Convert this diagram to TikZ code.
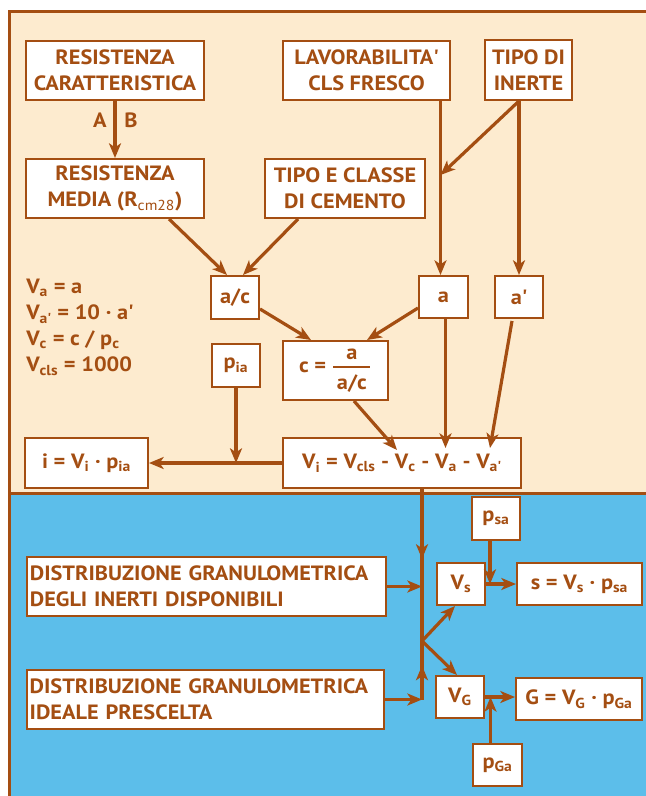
\documentclass[tikz,border=0pt]{standalone}
\usepackage{amsmath}
\usepackage{fontspec}
\setmainfont{PT Sans}[FakeStretch=1.08]
\usetikzlibrary{arrows.meta,calc,decorations.markings}
\definecolor{brn}{RGB}{164,78,18}
\definecolor{cream}{RGB}{253,235,207}
\definecolor{sky}{RGB}{92,190,234}

\begin{document}
\begin{tikzpicture}[x=0.75pt,y=0.75pt,yscale=-1,xscale=1,
  font=\bfseries\fontsize{15.5}{19.5}\selectfont, text=brn,
  box/.style={draw=brn,fill=white,line width=1.5pt,inner sep=0pt,align=center},
  wh/.style 2 args={minimum width=#1*0.75pt,minimum height=#2*0.75pt},
  conn/.style={draw=brn,line width=2.4pt},
  arr/.style={conn,-{Stealth[length=11pt,width=9pt,inset=3pt]}},
  midarr/.style={conn,postaction={decorate},decoration={markings,mark=at position #1 with {\arrow{Stealth[length=11pt,width=9pt,inset=3pt,color=brn]}}}},
  frame/.style={draw=brn,line width=2.4pt}]

\useasboundingbox (0,0) rectangle (646,796);

\fill [cream] (9.5,11.5) rectangle (646,493.5);

\fill [sky] (9.5,493.5) rectangle (646,796);

\draw [frame] (646,11.5) -- (9.5,11.5) -- (9.5,796);

\draw [frame] (9.5,493.5) -- (646,493.5);


\node (rc) [box,wh={178}{59}] at (115,70.5) {RESISTENZA\\CARATTERISTICA};

\node (rm) [box,wh={178}{59}] at (115,188.5) {RESISTENZA\\MEDIA (R\textsubscript{\mdseries cm28})};

\node (lav) [box,wh={167}{59}] at (366.5,70.5) {LAVORABILITA\textquotesingle\\CLS FRESCO};

\node (tin) [box,wh={87}{60}] at (528.5,70) {TIPO DI\\INERTE};

\node (tcc) [box,wh={160}{59}] at (345,188.5) {TIPO E CLASSE\\DI CEMENTO};

\node (ac) [box,wh={48}{43}] at (235,297.5) {a/c};

\node (a) [box,wh={49}{42}] at (443.5,297) {a};

\node (ap) [box,wh={48}{42}] at (519,297) {a\textquotesingle};

\node (c) [box,wh={105}{59}] at (335.5,370.5) {c = $\genfrac{}{}{1.6pt}{0}{\mbox{a}}{\mbox{\,a/c\,}}$};

\node (pia) [box,wh={48}{43}] at (236,365.5) {p\textsubscript{ia}};

\node (vi) [box,wh={238}{50}] at (402,463) {V\textsubscript{i} = V\textsubscript{cls} - V\textsubscript{c} - V\textsubscript{a} - V\textsubscript{a\textquotesingle}};

\node (i) [box,wh={123}{50}] at (86.5,463) {i = V\textsubscript{i} · p\textsubscript{ia}};

\node (eqs) [anchor=north west,align=left,inner sep=0pt] at (26,279) {V\textsubscript{a} = a\\V\textsubscript{a\textquotesingle} = 10 · a\textquotesingle\\V\textsubscript{c} = c / p\textsubscript{c}\\V\textsubscript{cls} = 1000};

\node (lbA) at (100,120) {A};

\node (lbB) at (131,120) {B};


\node (d1) [box,align=left,text width=265pt,inner xsep=2pt,minimum height=44.25pt] at (206.5,586.5) {DISTRIBUZIONE GRANULOMETRICA\\DEGLI INERTI DISPONIBILI};

\node (d2) [box,align=left,text width=263.75pt,inner xsep=2pt,minimum height=44.25pt] at (205.5,699.5) {DISTRIBUZIONE GRANULOMETRICA\\IDEALE PRESCELTA};

\node (psa) [box,wh={48}{43}] at (496,518.5) {p\textsubscript{sa}};

\node (vs) [box,wh={48}{42}] at (461,584) {V\textsubscript{s}};

\node (s) [box,wh={125}{42}] at (579.5,584) {s = V\textsubscript{s} · p\textsubscript{sa}};

\node (vg) [box,wh={48}{42}] at (460,697) {V\textsubscript{G}};

\node (g) [box,wh={126}{42}] at (579,699) {G = V\textsubscript{G} · p\textsubscript{Ga}};

\node (pga) [box,wh={49}{42}] at (497.5,765) {p\textsubscript{Ga}};


\coordinate (an) at ($(a.north)+(-3,0)$);

\coordinate (mid) at ($(an |- lav.south)+(0,74)$);

\coordinate (jn) at (pia.south |- vi.west);

\coordinate (vt) at ($(vi.south west)+(140,0)$);

\coordinate (fork) at ($(vt)+(0,152)$);

\coordinate (in1) at (vt |- d1.east);

\coordinate (in2) at (vt |- d2.east);

\coordinate (ps) at ($(psa.south)+(-6,0)$);

\coordinate (pg) at ($(pga.north)+(-7,0)$);


\draw [arr] (rc.south) -- (rm.north);

\draw [arr] ($(rm.south east)+(-36,0)$) -- ($(ac.north)+(-8,0)$);

\draw [arr] ($(tcc.south west)+(34,0)$) -- ($(ac.north)+(8,0)$);

\draw [arr] (an |- lav.south) -- (an);

\draw [arr] (ap.north |- tin.south) -- (ap.north);

\draw [arr] (ap.north |- tin.south) -- (mid);

\draw [arr] ($(a.west)+(0,11)$) -- ($(c.north east)+(-22,0)$);

\draw [arr] ($(ac.east)+(0,11.5)$) -- ($(c.north west)+(29,0)$);

\draw [arr] ($(c.south)+(18.5,0)$) -- ($(vi.north west)+(115,13)$);

\draw [arr] ($(a.south)+(2,0)$) -- ($(a.south)+(2,129)$);

\draw [arr] ($(ap.south)+(-7,2)$) -- ($(ap.south)+(-29,129)$);

\draw [arr] (vi.west) -- (i.east);

\draw [arr] (pia.south) -- (jn);


\draw [midarr=0.46] (vt) -- (fork);

\draw [midarr=0.58] (in2) -- (fork);

\draw [arr] (d1.east) -- (in1);

\draw [arr] (d2.east) -- (in2);

\draw [arr] (fork) -- ($(vs.south)+(-6,0)$);

\draw [arr] (fork) -- ($(vg.north)+(-3,0)$);

\draw [arr] (vs.east) -- (s.west);

\draw [arr] (ps) -- (ps |- vs.east);

\draw [arr] (vg.east) -- (vg.east -| g.west);

\draw [arr] (pg) -- (pg |- vg.east);

\end{tikzpicture}
\end{document}
